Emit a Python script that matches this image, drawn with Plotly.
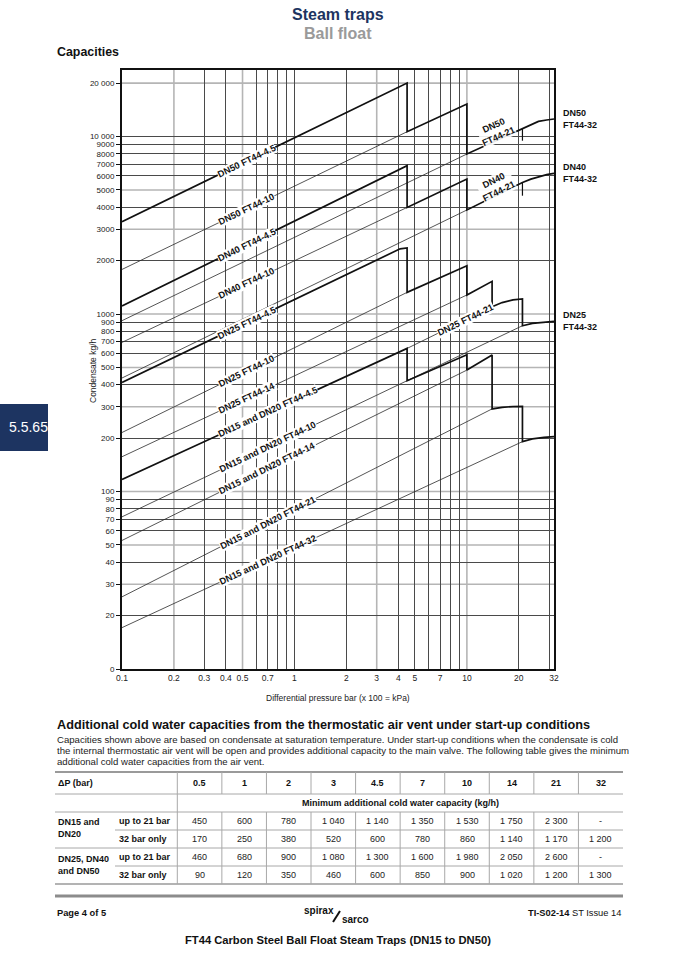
import math
import plotly.graph_objects as go

# ---------------- page geometry ----------------
W, H = 677, 958
ML, MR, MT, MB = 122, 123, 70, 289
PW = W - ML - MR
PH = H - MT - MB
Y_TOP_LOG = 4.3747
X_LOG_RANGE = [-1, math.log10(32)]

SANS = "Liberation Sans, Arial, sans-serif"
NAVY = "#1d3461"

# ---------------- axis ticks ----------------
x_tick_vals = [0.1, 0.2, 0.3, 0.4, 0.5, 0.7, 1, 2, 3, 4, 5, 7, 10, 20, 32]
x_tick_text = ["0.1", "0.2", "0.3", "0.4", "0.5", "0.7", "1", "2", "3", "4", "5", "7", "10", "20", "32"]
x_grid_dark = [0.3, 0.4, 0.6, 0.7, 0.8, 0.9, 1, 2, 4, 5, 6, 7, 8, 9, 20, 30]
x_grid_light = [0.2, 0.5, 3, 10]

y_tick_vals = [10, 20, 30, 40, 50, 60, 70, 80, 90, 100, 200, 300, 400, 500, 600, 700, 800, 900,
               1000, 2000, 3000, 4000, 5000, 6000, 7000, 8000, 9000, 10000, 20000]
y_tick_text = ["0", "20", "30", "40", "50", "60", "70", "80", "90", "100", "200", "300", "400", "500",
               "600", "700", "800", "900", "1000", "2000", "3000", "4000", "5000", "6000", "7000",
               "8000", "9000", "10 000", "20 000"]
y_grid_light = [30, 50, 100, 300, 500, 1000, 3000, 5000, 20000]
y_grid_dark = [20, 40, 60, 70, 80, 90, 200, 400, 600, 700, 800, 900, 2000, 4000, 6000, 7000, 8000, 9000, 10000]

# ---------------- thick capacity curves ----------------
dn50_x = [0.1, 4.5, 4.5, 10, 10, 21, 23.5, 26, 29, 32]
dn50_y = [3311, 20000, 10640, 15250, 7970, 11020, 11650, 12170, 12390, 12550]
dn40_x = [0.1, 4.5, 4.5, 10, 10, 21, 23.5, 26, 29, 32]
dn40_y = [1110, 6845, 3985, 5760, 3855, 5510, 5750, 5935, 6095, 6200]
dn25_x = [0.1, 3.6, 4.1, 4.5, 4.5, 10, 10, 14, 14, 16, 18.5, 21, 21, 24, 28, 32]
dn25_y = [412, 2180, 2330, 2354, 1324, 1871, 1280, 1527, 1099, 1160, 1200, 1215, 859, 885, 902, 909]
dn15_x = [0.1, 4.5, 4.5, 10, 10, 14, 14, 16, 18.5, 21, 21, 24, 28, 32]
dn15_y = [117, 640, 421, 590, 483, 588, 292, 298, 301, 302, 191, 198, 202, 204]

# end-of-21 bar marks
dn50_mark_x = [21, 21]
dn50_mark_y = [11020, 9470]
dn40_mark_x = [21, 21]
dn40_mark_y = [5510, 4640]

# ---------------- thin orifice lines ----------------
dn50_10_x, dn50_10_y = [0.1, 4.5], [1783, 10640]
dn50_21_x, dn50_21_y = [0.1, 10], [917, 7970]
dn40_10_x, dn40_10_y = [0.1, 4.5], [692, 3985]
dn40_21_x, dn40_21_y = [0.1, 10], [436, 3855]
dn25_10_x, dn25_10_y = [0.1, 4.5], [215, 1324]
dn25_14_x, dn25_14_y = [0.1, 10], [157, 1280]
dn25_21_x, dn25_21_y = [4.5, 14], [640, 1099]
dn25_32_x, dn25_32_y = [4.5, 21], [421, 859]
dn15_10_x, dn15_10_y = [0.1, 4.5], [72, 421]
dn15_14_x, dn15_14_y = [0.1, 10], [53, 483]
dn15_21_x, dn15_21_y = [0.1, 14], [25.5, 292]
dn15_32_x, dn15_32_y = [0.1, 21], [17.1, 191]

thin_lines = [
    (dn50_10_x, dn50_10_y), (dn50_21_x, dn50_21_y), (dn40_10_x, dn40_10_y), (dn40_21_x, dn40_21_y),
    (dn25_10_x, dn25_10_y), (dn25_14_x, dn25_14_y), (dn25_21_x, dn25_21_y), (dn25_32_x, dn25_32_y),
    (dn15_10_x, dn15_10_y), (dn15_14_x, dn15_14_y), (dn15_21_x, dn15_21_y), (dn15_32_x, dn15_32_y),
]
thick_lines = [(dn50_x, dn50_y), (dn40_x, dn40_y), (dn25_x, dn25_y), (dn15_x, dn15_y)]

# ---------------- line labels ----------------
line_labels = ["DN50 FT44-4.5", "DN50 FT44-10", "DN40 FT44-4.5", "DN40 FT44-10", "DN25 FT44-4.5",
               "DN25 FT44-10", "DN25 FT44-14", "DN15 and DN20 FT44-4.5", "DN15 and DN20 FT44-10",
               "DN15 and DN20 FT44-14", "DN15 and DN20 FT44-21", "DN15 and DN20 FT44-32",
               "DN25 FT44-21", "DN50<br>FT44-21", "DN40<br>FT44-21"]
label_lines = [
    (dn50_x[:2], dn50_y[:2]), (dn50_10_x, dn50_10_y), (dn40_x[:2], dn40_y[:2]), (dn40_10_x, dn40_10_y),
    (dn25_x[:2], dn25_y[:2]), (dn25_10_x, dn25_10_y), (dn25_14_x, dn25_14_y),
    (dn15_x[:2], dn15_y[:2]), (dn15_10_x, dn15_10_y), (dn15_14_x, dn15_14_y), (dn15_21_x, dn15_21_y),
    (dn15_32_x, dn15_32_y), (dn25_21_x, dn25_21_y), (dn50_x[4:6], dn50_y[4:6]), (dn40_x[4:6], dn40_y[4:6]),
]
label_at_x = [0.53, 0.53, 0.53, 0.53, 0.53, 0.53, 0.53, 0.70, 0.70, 0.70, 0.70, 0.70, 9.8, 15.4, 15.4]

end_labels = ["DN50<br>FT44-32", "DN40<br>FT44-32", "DN25<br>FT44-32"]
end_label_y = [dn50_y[-1], dn40_y[-1], dn25_y[-1]]

# ---------------- table ----------------
dp_bar = ["0.5", "1", "2", "3", "4.5", "7", "10", "14", "21", "32"]
dn15_up21 = ["450", "600", "780", "1 040", "1 140", "1 350", "1 530", "1 750", "2 300", "-"]
dn15_32only = ["170", "250", "380", "520", "600", "780", "860", "1 140", "1 170", "1 200"]
dn25_up21 = ["460", "680", "900", "1 080", "1 300", "1 600", "1 980", "2 050", "2 600", "-"]
dn25_32only = ["90", "120", "350", "460", "600", "850", "900", "1 020", "1 200", "1 300"]

fig = go.Figure()

for xs, ys in thin_lines:
    fig.add_trace(go.Scatter(x=xs, y=ys, mode="lines", line=dict(color="#2a2a2a", width=0.8),
                             hoverinfo="skip", showlegend=False))
for xs, ys in thick_lines:
    fig.add_trace(go.Scatter(x=xs, y=ys, mode="lines", line=dict(color="#111111", width=1.7),
                             hoverinfo="skip", showlegend=False))
for xs, ys in [(dn50_mark_x, dn50_mark_y), (dn40_mark_x, dn40_mark_y)]:
    fig.add_trace(go.Scatter(x=xs, y=ys, mode="lines", line=dict(color="#111111", width=1.2),
                             hoverinfo="skip", showlegend=False))

# light grid lines
for v in x_grid_light:
    fig.add_shape(type="line", xref="x", yref="paper", x0=v, x1=v, y0=0, y1=1,
                  line=dict(color="#b5b5b5", width=1.6), layer="below")
for v in y_grid_light:
    fig.add_shape(type="line", xref="paper", yref="y", x0=0, x1=1, y0=v, y1=v,
                  line=dict(color="#b5b5b5", width=1.6), layer="below")

px_dec_x = PW / (X_LOG_RANGE[1] - X_LOG_RANGE[0])
px_dec_y = PH / (Y_TOP_LOG - 1)

annotations = []
for text, (xs, ys), xl in zip(line_labels, label_lines, label_at_x):
    lx0, lx1 = math.log10(xs[0]), math.log10(xs[-1])
    ly0, ly1 = math.log10(ys[0]), math.log10(ys[-1])
    m = (ly1 - ly0) / (lx1 - lx0)
    lx = math.log10(xl)
    ly = ly0 + m * (lx - lx0)
    ang = math.degrees(math.atan(m * px_dec_y / px_dec_x))
    two = "<br>" in text
    annotations.append(dict(x=lx, y=ly, xref="x", yref="y", text="<b>%s</b>" % text, showarrow=False,
                            textangle=-ang, bgcolor="rgba(255,255,255,1)" if not two else "rgba(255,255,255,0.9)",
                            borderpad=0, font=dict(family=SANS, size=9.2, color="#111"),
                            xshift=-3 if two else 0, yshift=8 if two else 0))

for text, yv in zip(end_labels, end_label_y):
    annotations.append(dict(x=1, y=math.log10(yv), xref="paper", yref="y", text="<b>%s</b>" % text,
                            showarrow=False, xanchor="left", yanchor="middle", xshift=7, align="left",
                            font=dict(family=SANS, size=9, color="#111")))


def pxx(px):
    return (px - ML) / PW


def pxy(py):
    return (H - MB - py) / PH


def txt(px, py, text, size=9, bold=False, color="#111", xanchor="left", family=SANS, yanchor="middle", align="left"):
    annotations.append(dict(x=pxx(px), y=pxy(py), xref="paper", yref="paper",
                            text=("<b>%s</b>" % text) if bold else text, showarrow=False,
                            xanchor=xanchor, yanchor=yanchor, align=align,
                            font=dict(family=family, size=size, color=color)))


shapes = []


def hline(px0, px1, py, color="#a8a8a8", width=1):
    shapes.append(dict(type="line", xref="paper", yref="paper", x0=pxx(px0), x1=pxx(px1),
                       y0=pxy(py), y1=pxy(py), line=dict(color=color, width=width)))


def vline(px, py0, py1, color="#a8a8a8", width=1):
    shapes.append(dict(type="line", xref="paper", yref="paper", x0=pxx(px), x1=pxx(px),
                       y0=pxy(py0), y1=pxy(py1), line=dict(color=color, width=width)))


# page header
txt(338, 15, "Steam traps", size=16, bold=True, color=NAVY, xanchor="center")
txt(338, 33, "Ball float", size=16, bold=True, color="#9a9a9a", xanchor="center")
txt(55, 52, "Capacities", size=12.4, bold=True)

# axis titles
annotations.append(dict(x=pxx(86), y=pxy(371), xref="paper", yref="paper", text="Condensate kg/h",
                        showarrow=False, textangle=-90, font=dict(family=SANS, size=8.5, color="#222")))
txt(338, 698, "Differential pressure bar (x 100 = kPa)", size=8.5, xanchor="center", color="#222")

# side tab
shapes.append(dict(type="rect", xref="paper", yref="paper", x0=pxx(0), x1=pxx(48), y0=pxy(451), y1=pxy(404),
                   fillcolor=NAVY, line=dict(width=0)))
txt(28, 427, "5.5.65", size=14, color="white", xanchor="center")

# section text
txt(55, 725, "Additional cold water capacities from the thermostatic air vent under start-up conditions",
    size=12.7, bold=True)
para = ["Capacities shown above are based on condensate at saturation temperature. Under start-up conditions when the condensate is cold",
        "the internal thermostatic air vent will be open and provides additional capacity to the main valve. The following table gives the minimum",
        "additional cold water capacities from the air vent."]
for i, line in enumerate(para):
    txt(55, 739 + 11.3 * i, line, size=9.6, color="#222")

# table
T_L, T_R = 55, 623
COL0, COLW = 177.3, 44.57
rows_y = [783, 803, 821, 839, 857, 875]
hline(T_L, T_R, 772, color="#9a9a9a", width=2)
hline(T_L, T_R, 794)
hline(T_L, T_R, 812)
hline(115, T_R, 830)
hline(T_L, T_R, 848)
hline(115, T_R, 866)
hline(T_L, T_R, 884, color="#9a9a9a", width=1.5)
vline(COL0, 772, 884)
for i in range(1, 10):
    xv = COL0 + i * COLW
    vline(xv, 772, 794)
    vline(xv, 812, 884)

txt(56, rows_y[0], "ΔP (bar)", size=9, bold=True)
for i, v in enumerate(dp_bar):
    txt(COL0 + (i + 0.5) * COLW, rows_y[0], v, size=9, bold=True, xanchor="center")
txt(COL0 + 5 * COLW, rows_y[1], "Minimum additional cold water capacity (kg/h)", size=9, bold=True, xanchor="center")
txt(56, 828, "DN15 and<br>DN20", size=9, bold=True)
txt(56, 865, "DN25, DN40<br>and DN50", size=9, bold=True)
for r, (lab, vals) in enumerate([("up to 21 bar", dn15_up21), ("32 bar only", dn15_32only),
                                  ("up to 21 bar", dn25_up21), ("32 bar only", dn25_32only)]):
    yy = rows_y[2 + r]
    txt(117, yy, lab, size=9, bold=True)
    for i, v in enumerate(vals):
        txt(COL0 + (i + 0.5) * COLW, yy, v, size=9, xanchor="center", color="#222")

# footer
hline(T_L, T_R, 896, color="#8c8c8c", width=3)
txt(55, 913, "Page 4 of 5", size=9.3, bold=True)
txt(623, 913, "<b>TI-S02-14</b> ST Issue 14", size=9.3, xanchor="right")
txt(336, 910, "spirax", size=10, bold=True, xanchor="right")
txt(340, 919, "sarco", size=10, bold=True, xanchor="left")
shapes.append(dict(type="line", xref="paper", yref="paper", x0=pxx(333), x1=pxx(340),
                   y0=pxy(922), y1=pxy(911), line=dict(color="#111", width=2)))
txt(338, 940, "FT44 Carbon Steel Ball Float Steam Traps (DN15 to DN50)", size=11.2, bold=True, xanchor="center")

fig.update_layout(
    width=W, height=H, autosize=False,
    margin=dict(l=ML, r=MR, t=MT, b=MB, pad=0),
    paper_bgcolor="white", plot_bgcolor="white",
    showlegend=False,
    annotations=annotations,
    xaxis=dict(type="log", range=X_LOG_RANGE, tickmode="array", tickvals=x_tick_vals, ticktext=x_tick_text,
               showgrid=False, zeroline=False, ticks="", showline=True, linecolor="#111", linewidth=2,
               mirror=True, tickfont=dict(family=SANS, size=8.5, color="#222"),
               minor=dict(tickmode="array", tickvals=x_grid_dark, showgrid=True, gridcolor="#4a4a4a",
                          gridwidth=0.9, ticks="")),
    yaxis=dict(type="log", range=[1, Y_TOP_LOG], tickmode="array", tickvals=y_tick_vals, ticktext=y_tick_text,
               showgrid=False, zeroline=False, ticks="outside", ticklen=4, tickwidth=1, tickcolor="#111",
               showline=True, linecolor="#111", linewidth=2, mirror=True,
               tickfont=dict(family=SANS, size=8, color="#222"),
               minor=dict(tickmode="array", tickvals=y_grid_dark, showgrid=True, gridcolor="#4a4a4a",
                          gridwidth=0.9, ticks="")),
)
for s in shapes:
    fig.add_shape(**s)

fig.write_html("out.html", config={"displayModeBar": False},
               post_script="document.body.style.margin='0';document.body.style.overflow='hidden';")
